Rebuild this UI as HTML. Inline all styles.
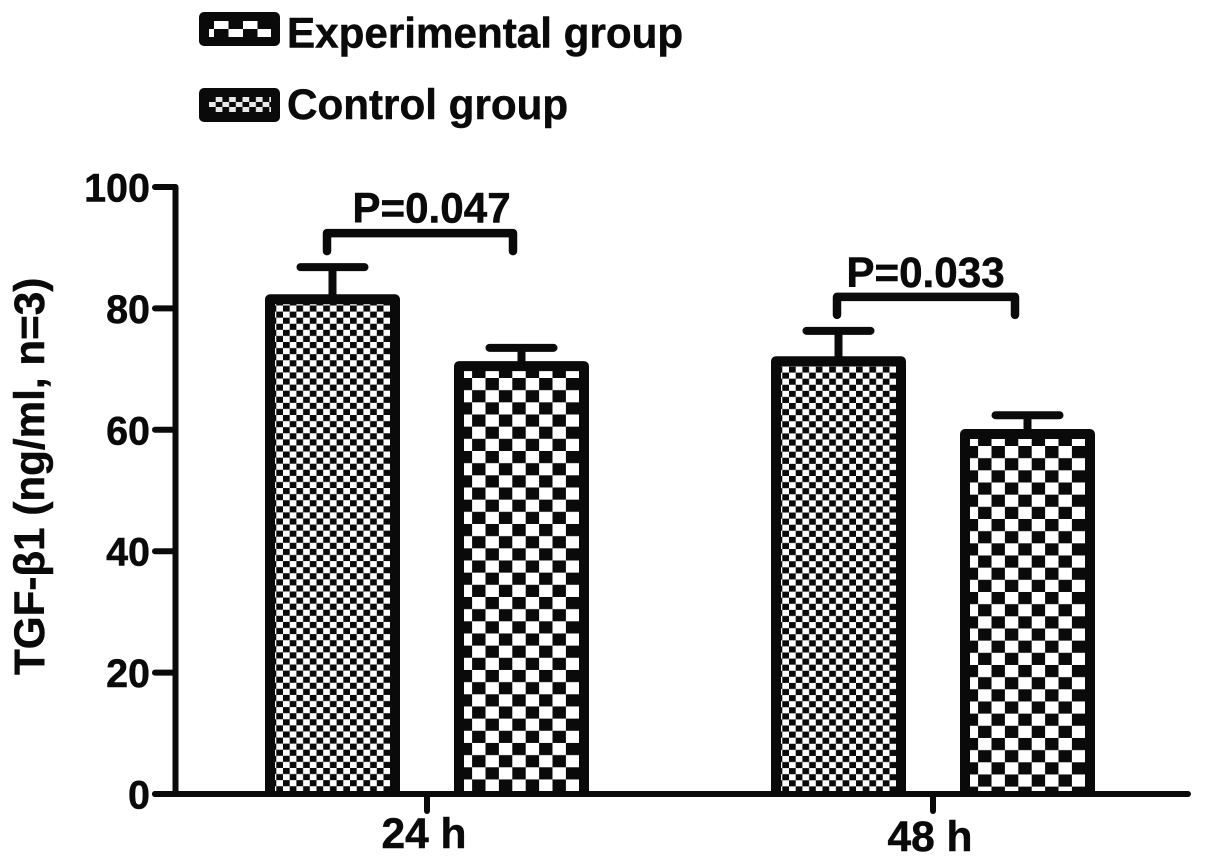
<!DOCTYPE html>
<html>
<head>
<meta charset="utf-8">
<title>TGF-β1 bar chart</title>
<style>
html,body{margin:0;padding:0;background:#fff;}
svg{display:block;}
text{font-family:"Liberation Sans",Arial,sans-serif;font-weight:bold;fill:#0a0a0a;stroke:#0a0a0a;stroke-width:0.5px;}
</style>
</head>
<body>
<svg id="chart" xmlns="http://www.w3.org/2000/svg" width="1205" height="863" viewBox="0 0 1205 863">
  <defs>
    <pattern id="fine-24h" patternUnits="userSpaceOnUse" x="283" y="305.5" width="13.4" height="12.17">
      <rect width="13.4" height="12.17" fill="#fff"/>
      <rect x="0" y="0" width="6.7" height="6.085" fill="#0a0a0a"/>
      <rect x="6.7" y="6.085" width="6.7" height="6.085" fill="#0a0a0a"/>
    </pattern>
    <pattern id="fine-48h" patternUnits="userSpaceOnUse" x="789" y="366.5" width="13.4" height="12.17">
      <rect width="13.4" height="12.17" fill="#fff"/>
      <rect x="0" y="0" width="6.7" height="6.085" fill="#0a0a0a"/>
      <rect x="6.7" y="6.085" width="6.7" height="6.085" fill="#0a0a0a"/>
    </pattern>
    <pattern id="coarse-24h" patternUnits="userSpaceOnUse" x="485.5" y="378" width="26.8" height="24.33">
      <rect width="26.8" height="24.33" fill="#fff"/>
      <rect x="0" y="0" width="13.4" height="12.165" fill="#0a0a0a"/>
      <rect x="13.4" y="12.165" width="13.4" height="12.165" fill="#0a0a0a"/>
    </pattern>
    <pattern id="coarse-48h" patternUnits="userSpaceOnUse" x="991.5" y="446" width="26.8" height="24.33">
      <rect width="26.8" height="24.33" fill="#fff"/>
      <rect x="0" y="0" width="13.4" height="12.165" fill="#0a0a0a"/>
      <rect x="13.4" y="12.165" width="13.4" height="12.165" fill="#0a0a0a"/>
    </pattern>
    <pattern id="legend-coarse" patternUnits="userSpaceOnUse" x="214" y="21" width="29" height="16">
      <rect width="29" height="16" fill="#fff"/>
      <rect x="14.5" y="0" width="14.5" height="8" fill="#0a0a0a"/>
      <rect x="0" y="8" width="14.5" height="8" fill="#0a0a0a"/>
    </pattern>
    <pattern id="legend-fine" patternUnits="userSpaceOnUse" x="209" y="97" width="13.4" height="10">
      <rect width="13.4" height="10" fill="#e8e8e8"/>
      <rect x="0" y="0" width="6.7" height="5" fill="#0a0a0a"/>
      <rect x="6.7" y="5" width="6.7" height="5" fill="#0a0a0a"/>
    </pattern>
  </defs>

  <g>
    <g>
      <rect x="199" y="12" width="81" height="34" rx="5" fill="#0a0a0a"/>
      <rect x="209" y="21" width="62" height="16" fill="url(#legend-coarse)"/>
      <text x="287" y="47.5" font-size="42.2">Experimental group</text>
    </g>
    <g>
      <rect x="199" y="88" width="81" height="34" rx="5" fill="#0a0a0a"/>
      <rect x="209" y="97" width="62" height="15" fill="url(#legend-fine)"/>
      <text x="287" y="119" font-size="42.2">Control group</text>
    </g>
  </g>

  <g id="bars"></g>
  <g id="brackets"></g>
  <g id="axes"></g>

  <text transform="translate(44,675) rotate(-90)" font-size="42.2">TGF-β1 (ng/ml, n=3)</text>
</svg>

<script>
var groups = ['24 h', '48 h'];
var experimentalValues = [81.5, 71.3];
var controlValues = [70.5, 59.3];
var experimentalErrors = [5.3, 5.0];
var controlErrors = [3.0, 3.1];
var yTicks = [0, 20, 40, 60, 80, 100];
var pLabels = ['P=0.047', 'P=0.033'];
var bracketLevels = [92.4, 81.9];

var NS = 'http://www.w3.org/2000/svg';
var INK = '#0a0a0a';

function yScale(v) { return 794 - v * 6.07; }
function groupCenter(i) { return 427 + i * 506; }

function make(parent, tag, attrs, text) {
  var el = document.createElementNS(NS, tag);
  for (var k in attrs) el.setAttribute(k, attrs[k]);
  if (text !== undefined) el.textContent = text;
  parent.appendChild(el);
  return el;
}

var barsLayer = document.getElementById('bars');
var bracketLayer = document.getElementById('brackets');
var axesLayer = document.getElementById('axes');

function drawBar(center, value, err, fill, key) {
  var halfW = 62.5;
  var top = yScale(value);
  var errEl = make(barsLayer, 'path', {
    d: 'M' + center + ' ' + top + 'V' + yScale(value + err) +
       'M' + (center - 32) + ' ' + yScale(value + err) + 'H' + (center + 32),
    stroke: INK, 'stroke-width': 8, 'stroke-linecap': 'round', fill: 'none'
  });
  
  
  var bar = make(barsLayer, 'rect', {
    x: center - halfW, y: top, width: halfW * 2, height: 794 - top,
    fill: fill
  });
  
  
  var outline = make(barsLayer, 'path', {
    d: 'M' + (center - halfW) + ' 794V' + top + 'H' + (center + halfW) + 'V794',
    fill: 'none', stroke: INK, 'stroke-width': 10, 'stroke-linejoin': 'round'
  });
  
  
}

groups.forEach(function (g, i) {
  var c = groupCenter(i);
  var key = g.replace(' ', '');
  var suffix = key.toLowerCase();
  drawBar(c - 94.5, experimentalValues[i], experimentalErrors[i], 'url(#fine-' + suffix + ')', 'experimental-' + key);
  drawBar(c + 94.5, controlValues[i], controlErrors[i], 'url(#coarse-' + suffix + ')', 'control-' + key);

  var y = yScale(bracketLevels[i]);
  var left = c + (i === 0 ? -100 : -96);
  var right = c + (i === 0 ? 86 : 82);
  var br = make(bracketLayer, 'path', {
    d: 'M' + left + ' ' + (y + 18) + 'V' + y + 'H' + right + 'V' + (y + 18),
    stroke: INK, 'stroke-width': 8.5, 'stroke-linecap': 'round', 'stroke-linejoin': 'round', fill: 'none'
  });
  
  
  var pt = make(bracketLayer, 'text', {
    x: c + (i === 0 ? 4.5 : -7.5), y: y - (i === 0 ? 10.5 : 10), 'font-size': 42.2, 'text-anchor': 'middle'
  }, pLabels[i]);
  
  
});

var yAxis = make(axesLayer, 'line', {
  x1: 175.5, x2: 175.5, y1: yScale(100), y2: 794,
  stroke: INK, 'stroke-width': 6, 'stroke-linecap': 'round'
});



var xAxis = make(axesLayer, 'line', {
  x1: 155, x2: 1188, y1: 794, y2: 794,
  stroke: INK, 'stroke-width': 6, 'stroke-linecap': 'round'
});



yTicks.forEach(function (t) {
  var y = yScale(t);
  var tick = make(axesLayer, 'line', {
    x1: 155, x2: 175, y1: y, y2: y,
    stroke: INK, 'stroke-width': 6, 'stroke-linecap': 'round'
  });
  
  
  var label = make(axesLayer, 'text', {
    x: 150, y: y + 14.5, 'font-size': 39.5, 'text-anchor': 'end'
  }, String(t));
  
  
});

groups.forEach(function (g, i) {
  var c = groupCenter(i);
  var key = g.replace(' ', '');
  var tick = make(axesLayer, 'line', {
    x1: c, x2: c, y1: 794, y2: 811,
    stroke: INK, 'stroke-width': 6, 'stroke-linecap': 'round'
  });
  
  
  var label = make(axesLayer, 'text', {
    x: c - 3, y: 848 + i * 3, 'font-size': 42.5, 'text-anchor': 'middle'
  }, g);
  
  
});
</script>
</body>
</html>
